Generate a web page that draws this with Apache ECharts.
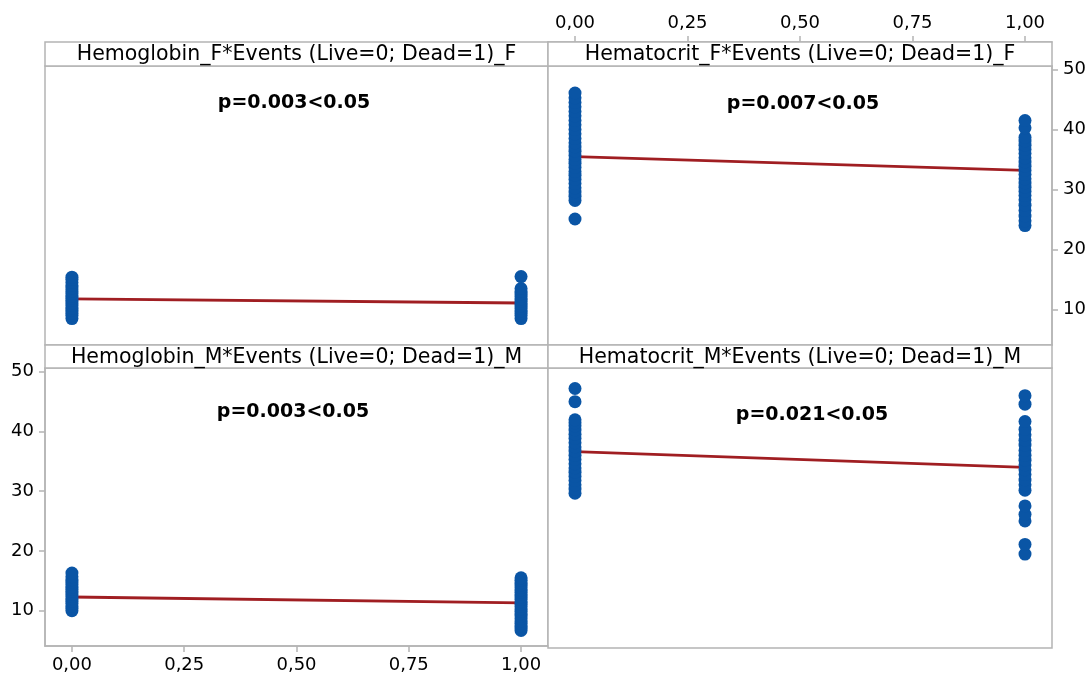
<!DOCTYPE html>
<html><head><meta charset="utf-8">
<script src="https://cdn.jsdelivr.net/npm/echarts@6/dist/echarts.min.js"></script>
<style>html,body{margin:0;padding:0;background:#fff;}#c{width:1091px;height:674px;}</style>
</head><body><div id="c"></div>
<script>
// ---- data ----
const xTicks = [0, 0.25, 0.5, 0.75, 1];
const yTicks = [10, 20, 30, 40, 50];
const panelTitles = [
  'Hemoglobin_F*Events (Live=0; Dead=1)_F',
  'Hematocrit_F*Events (Live=0; Dead=1)_F',
  'Hemoglobin_M*Events (Live=0; Dead=1)_M',
  'Hematocrit_M*Events (Live=0; Dead=1)_M'
];
const pLabels = ['p=0.003<0.05', 'p=0.007<0.05', 'p=0.003<0.05', 'p=0.021<0.05'];

const hgbF_live = [8.5, 9.0, 9.4, 9.9, 10.3, 10.7, 11.1, 11.5, 11.9, 12.3, 12.7, 13.1, 13.6, 14.0, 14.5, 15.0, 15.4];
const hgbF_dead = [8.5, 9.0, 9.4, 9.8, 10.2, 10.6, 11.0, 11.4, 11.8, 12.2, 12.6, 13.0, 13.5, 15.5];
const hgbF_fit = [11.8, 11.1];

const hctF_live = [25.1, 28.2, 28.9, 29.6, 30.3, 31.0, 31.7, 32.4, 33.0, 33.7, 34.4, 35.0, 35.7, 36.4, 37.1, 37.8, 38.5, 39.3, 40.0, 40.8, 41.5, 42.3, 43.0, 43.8, 44.5, 45.3, 46.1];
const hctF_dead = [24.0, 24.8, 25.6, 26.5, 27.4, 28.3, 29.0, 29.7, 30.4, 31.1, 31.8, 32.5, 33.2, 33.9, 34.6, 35.3, 36.0, 36.7, 37.4, 38.1, 38.7, 40.3, 41.5];
const hctF_fit = [35.5, 33.2];

const hgbM_live = [10.0, 10.4, 10.8, 11.2, 11.6, 12.0, 12.4, 12.8, 13.2, 13.6, 14.0, 14.4, 14.8, 15.2, 15.7, 16.3];
const hgbM_dead = [6.7, 7.1, 7.5, 7.9, 8.3, 8.7, 9.1, 9.5, 9.9, 10.3, 10.7, 11.1, 11.5, 11.9, 12.3, 12.7, 13.1, 13.5, 13.9, 14.3, 14.7, 15.1, 15.5];
const hgbM_fit = [12.3, 11.3];

const hctM_live = [29.8, 30.5, 31.2, 31.9, 32.6, 33.3, 34.0, 34.7, 35.4, 36.1, 36.8, 37.5, 38.2, 38.9, 39.6, 40.3, 41.0, 41.5, 42.0, 45.0, 47.2];
const hctM_dead = [19.7, 21.3, 25.2, 26.3, 27.7, 30.3, 31.2, 32.0, 32.9, 33.7, 34.5, 35.3, 36.1, 36.9, 37.8, 38.6, 39.5, 40.4, 41.7, 44.6, 46.0];
const hctM_fit = [36.7, 34.1];

const panels = [
  { live: hgbF_live, dead: hgbF_dead, fit: hgbF_fit },
  { live: hctF_live, dead: hctF_dead, fit: hctF_fit },
  { live: hgbM_live, dead: hgbM_dead, fit: hgbM_fit },
  { live: hctM_live, dead: hctM_dead, fit: hctM_fit }
];

// ---- layout ----
const L = 45, M = 548, R = 1052;
const rows = [{ head: 42, top: 66, bottom: 345 }, { head: 345, top: 368, bottom: 648 }];
const cols = [{ l: L, r: M }, { l: M, r: R }];
const GRAY = '#b4b4b4', BLUE = '#0a55a5', RED = '#a01e22', TXT = '#000';
const FONT = '"DejaVu Sans", sans-serif';
const pPos = [[294, 103], [803, 104], [293, 412], [812, 415]];

const grids = [], xAxes = [], yAxes = [], series = [], graphics = [];
const fmt = v => v.toFixed(2).replace('.', ',');

panels.forEach((p, i) => {
  const row = rows[Math.floor(i / 2)], col = cols[i % 2];
  grids.push({ left: col.l, top: row.top, width: col.r - col.l, height: row.bottom - row.top,
    show: true, borderColor: GRAY, borderWidth: 1.5, backgroundColor: '#fff' });
  const showX = (i === 1 || i === 2);
  const showY = (i === 1 || i === 2);
  xAxes.push({
    gridIndex: i, type: 'value', min: -0.06, max: 1.06,
    show: showX, position: i === 1 ? 'top' : 'bottom', offset: i === 1 ? (row.top - row.head) : 0,
    axisLine: { show: true, onZero: false, lineStyle: { color: GRAY, width: 1.5 } },
    axisTick: { show: true, customValues: xTicks, length: 6, lineStyle: { color: GRAY, width: 1.5 } },
    axisLabel: { show: true, customValues: xTicks, formatter: fmt, fontSize: 18, fontFamily: FONT, color: TXT, margin: 10 },
    splitLine: { show: false }
  });
  yAxes.push({
    gridIndex: i, type: 'value', min: 4.1, max: 50.6,
    show: showY, position: i === 1 ? 'right' : 'left',
    axisLine: { show: true, onZero: false, lineStyle: { color: GRAY, width: 1.5 } },
    axisTick: { show: true, customValues: yTicks, length: 6, lineStyle: { color: GRAY, width: 1.5 } },
    axisLabel: { show: true, customValues: yTicks, fontSize: 18, fontFamily: FONT, color: TXT, margin: 11 },
    splitLine: { show: false }
  });
  series.push({
    type: 'line', xAxisIndex: i, yAxisIndex: i, z: 2,
    data: [[0, p.fit[0]], [1, p.fit[1]]], showSymbol: false, symbol: 'none',
    lineStyle: { color: RED, width: 2.8 }, silent: true
  });
  series.push({
    type: 'scatter', xAxisIndex: i, yAxisIndex: i, z: 3, symbolSize: 13,
    itemStyle: { color: BLUE, opacity: 1 },
    data: p.live.map(v => [0, v]).concat(p.dead.map(v => [1, v]))
  });
  graphics.push({ type: 'rect', z: 10,
    shape: { x: col.l, y: row.head, width: col.r - col.l, height: row.top - row.head },
    style: { fill: '#fff', stroke: GRAY, lineWidth: 1.5 } });
  graphics.push({ type: 'text', z: 11,
    style: { text: panelTitles[i], x: (col.l + col.r) / 2, y: (row.head + row.top) / 2 + 1,
      textAlign: 'center', textVerticalAlign: 'middle', font: '20.5px ' + FONT, fill: TXT } });
  graphics.push({ type: 'text', z: 11,
    style: { text: pLabels[i], x: pPos[i][0], y: pPos[i][1],
      textAlign: 'center', textVerticalAlign: 'middle', font: 'bold 19px ' + FONT, fill: TXT } });
});

const chart = echarts.init(document.getElementById('c'), null, { renderer: 'canvas' });
chart.setOption({
  animation: false,
  backgroundColor: '#fff',
  grid: grids, xAxis: xAxes, yAxis: yAxes, series: series, graphic: graphics
});
</script></body></html>
